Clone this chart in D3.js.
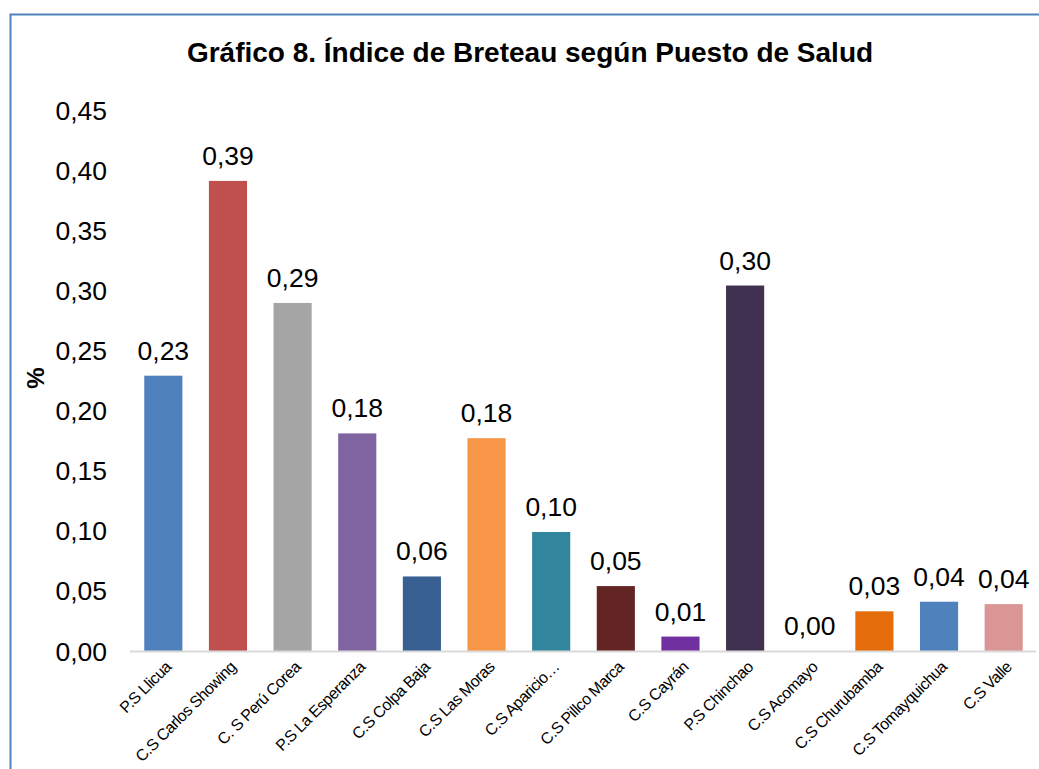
<!DOCTYPE html>
<html><head><meta charset="utf-8">
<script src="https://cdn.jsdelivr.net/npm/d3@7"></script>
<style>body{margin:0;background:#fff;}svg{display:block;font-family:"Liberation Sans",Arial,sans-serif;}</style>
</head><body>
<svg id="c" width="1039" height="769"></svg>
<script>
const categories = ["P.S Llicua","C.S Carlos Showing","C. S Perú Corea","P.S La Esperanza","C.S Colpa Baja","C.S Las Moras","C.S Aparicio…","C.S Pillco Marca","C.S Cayrán","P.S Chinchao","C.S Acomayo","C.S Churubamba","C.S Tomayquichua","C.S Valle"];
const values = [0.229,0.391,0.2895,0.181,0.062,0.177,0.099,0.054,0.012,0.304,0.000,0.033,0.041,0.039];
const colors = ["#4F81BD","#C0504D","#A5A5A5","#8064A2","#375F91","#F79646","#31859C","#632523","#7030A0","#403151","#E46C0A","#E46C0A","#4F81BD","#D99694"];
const yTicks = [0,0.05,0.10,0.15,0.20,0.25,0.30,0.35,0.40,0.45];
const title = "Gráfico 8. Índice de Breteau según Puesto de Salud";
const yLabel = "%";

const svg = d3.select("#c");
const fmt = v => v.toFixed(2).replace(".", ",");

svg.append("rect").attr("x",10.5).attr("y",14.5).attr("width",1040).attr("height",770)
  .attr("fill","none").attr("stroke","#4F81BD").attr("stroke-width",2);

const x = d3.scaleBand().domain(categories).range([131,1036]).paddingInner(0.41).paddingOuter(0.205);
const y = d3.scaleLinear().domain([0,0.45]).range([651,110]);

svg.append("text").attr("x",530).attr("y",62).attr("text-anchor","middle")
  .attr("font-weight","bold").attr("font-size",28).text(title);

svg.append("text").attr("transform","translate(44,378) rotate(-90)").attr("text-anchor","middle")
  .attr("font-weight","bold").attr("font-size",24).text(yLabel);

svg.selectAll(".yt").data(yTicks).enter().append("text")
  .attr("x",107).attr("y",d=>y(d)).attr("dy","0.36em").attr("text-anchor","end")
  .attr("font-size",26.5).attr("fill","#000").text(fmt);

svg.selectAll(".bar").data(categories).enter().append("rect")
  .attr("x",d=>x(d)).attr("width",x.bandwidth())
  .attr("y",(d,i)=>y(values[i])).attr("height",(d,i)=>y(0)-y(values[i]))
  .attr("fill",(d,i)=>colors[i]);

svg.append("line").attr("x1",130).attr("x2",1036).attr("y1",651.5).attr("y2",651.5)
  .attr("stroke","#D9D9D9").attr("stroke-width",2);

svg.selectAll(".lbl").data(categories).enter().append("text")
  .attr("x",d=>x(d)+x.bandwidth()/2).attr("y",(d,i)=>y(values[i])-16)
  .attr("text-anchor","middle").attr("font-size",26.5).text((d,i)=>fmt(values[i]));

svg.selectAll(".xl").data(categories).enter().append("text")
  .attr("transform",d=>`translate(${x(d)+x.bandwidth()/2+5},${664}) rotate(-45)`)
  .attr("text-anchor","end").attr("dy","0.35em").attr("font-size",16)
  .attr("letter-spacing","-0.5").text(d=>d);
</script>
</body></html>
